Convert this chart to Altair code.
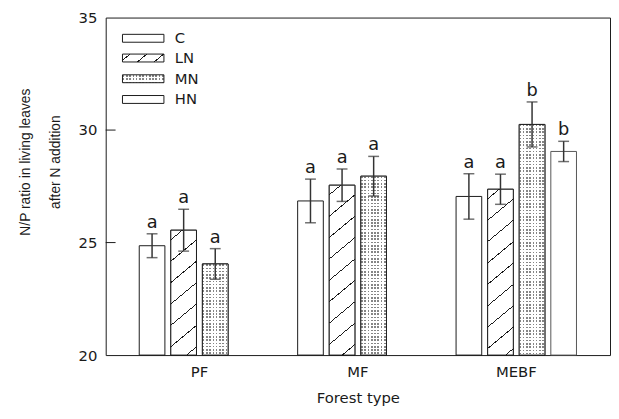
import altair as alt
import pandas as pd

# ---------------- data ----------------
forests = ["PF", "MF", "MEBF"]
treatments = ["C", "LN", "MN", "HN"]
bar_forest = ["PF", "PF", "PF", "MF", "MF", "MF", "MEBF", "MEBF", "MEBF", "MEBF"]
bar_treat = ["C", "LN", "MN", "C", "LN", "MN", "C", "LN", "MN", "HN"]
means = [24.86, 25.55, 24.05, 26.85, 27.55, 27.95, 27.05, 27.37, 30.25, 29.05]
errors = [0.53, 0.93, 0.68, 0.97, 0.72, 0.88, 1.01, 0.67, 1.00, 0.45]
letters = ["a", "a", "a", "a", "a", "a", "a", "a", "b", "b"]
y_ticks = [20, 25, 30, 35]
inner_ticks = [25, 30]
y_title = ["N/P ratio in living leaves", "after N addition"]
x_title = "Forest type"

# ---------------- layout / style ----------------
W, H = 511, 342
YMIN, YMAX = 20, 35
PI, PO = 0.2025, 0.193          # x band padding
PIO, POO = 0.1875, 0.09375      # xOffset padding
INK = "#1a1a1a"
FONT = "DejaVu Sans"
DOT = "#858585"
CLEAR = "rgba(255,255,255,0)"

step = W / (len(forests) - PI + 2 * PO)
bandw = step * (1 - PI)
ostep = bandw / (len(treatments) - PIO + 2 * POO)
BARW = ostep * (1 - PIO)

df = pd.DataFrame({
    "forest": bar_forest, "treatment": bar_treat,
    "mean": means, "err": errors, "letter": letters,
})
df["lo"] = df["mean"] - df["err"]
df["hi"] = df["mean"] + df["err"]


def grad(stops, x2, y2):
    return alt.LinearGradient(
        gradient="linear",
        stops=[alt.GradientStop(color=c, offset=round(min(max(o, 0.0), 1.0), 5)) for o, c in stops],
        x1=0, y1=0, x2=x2, y2=y2,
    )


def bands(total, spacing, lw, on, off, phase):
    stops = [(0.0, off)]
    pos = phase
    while pos - lw / 2 < total:
        lo = max(pos - lw / 2, 0) / total
        hi = min(pos + lw / 2, total) / total
        stops += [(lo, off), (lo, on), (hi, on), (hi, off)]
        pos += spacing
    stops.append((1.0, off))
    return stops


def hatch(w, h, spacing, k=1.2, lw=1.3, color=INK):
    # lines of constant (px + k*py)
    total = w + k * h
    r = h / w
    a = (1 + k * r) / (1 + k * k * r * r)
    return grad(bands(total, spacing, lw, color, "white", spacing * 0.45), a, a * k * r)


def rows(h, spacing=3.3, lw=1.6):
    return grad(bands(h, spacing, lw, DOT, "white", 1.2), 0, 1)


def cols(w, spacing=3.3, lw=1.6):
    return grad(bands(w, spacing, lw, CLEAR, "white", 1.2), 1, 0)


x_enc = alt.X("forest:N", sort=forests,
              scale=alt.Scale(domain=forests, paddingInner=PI, paddingOuter=PO),
              axis=alt.Axis(title=x_title, labelAngle=0, ticks=False, domain=False,
                            labelFont=FONT, labelFontSize=15, labelColor=INK,
                            labelPadding=10, titleFont=FONT, titleFontSize=15,
                            titleFontWeight="normal", titleColor=INK, titlePadding=11))
xo_enc = alt.XOffset("treatment:N", sort=treatments,
                     scale=alt.Scale(domain=treatments, paddingInner=PIO, paddingOuter=POO))
y_scale = alt.Scale(domain=[YMIN, YMAX], nice=False, zero=False)
y_axis = alt.Axis(values=y_ticks, ticks=False, domain=False, grid=False,
                  labelFont=FONT, labelFontSize=15, labelColor=INK, labelPadding=9,
                  title=y_title, titleFont="Liberation Sans", titleFontSize=14,
                  titleFontWeight="normal", titleColor=INK, titlePadding=16,
                  titleLineHeight=30, titleY=146)

base = alt.Chart(df)

bars = base.mark_bar(strokeWidth=1, fill="white").encode(
    x=x_enc, xOffset=xo_enc,
    y=alt.Y("mean:Q", scale=y_scale, axis=y_axis),
    y2=alt.datum(YMIN),
    stroke=alt.Stroke("treatment:N", scale=alt.Scale(domain=treatments,
                      range=[INK, INK, INK, "#555555"]), legend=None),
)

layers = [bars]
for f, t, m in zip(bar_forest, bar_treat, means):
    h = (m - YMIN) / (YMAX - YMIN) * H
    sel = base.transform_filter((alt.datum.forest == f) & (alt.datum.treatment == t))
    enc = dict(x=x_enc, xOffset=xo_enc, y=alt.Y("mean:Q", scale=y_scale), y2=alt.datum(YMIN))
    if t == "LN":
        layers.append(sel.mark_bar(stroke=INK, strokeWidth=1,
                                   fill=hatch(BARW, h, spacing=26)).encode(**enc))
    elif t == "MN":
        layers.append(sel.mark_bar(strokeWidth=0, fill=rows(h)).encode(**enc))
        layers.append(sel.mark_bar(stroke=INK, strokeWidth=1, fill=cols(BARW)).encode(**enc))

whisk = base.mark_rule(color="#333", strokeWidth=1.5).encode(
    x=x_enc, xOffset=xo_enc, y=alt.Y("lo:Q", scale=y_scale), y2="hi:Q")
cap_lo = base.mark_tick(orient="horizontal", size=11, thickness=1.5, color="#333").encode(
    x=x_enc, xOffset=xo_enc, y=alt.Y("lo:Q", scale=y_scale))
cap_hi = base.mark_tick(orient="horizontal", size=11, thickness=1.5, color="#333").encode(
    x=x_enc, xOffset=xo_enc, y=alt.Y("hi:Q", scale=y_scale))
labels = base.mark_text(font=FONT, fontSize=18, color=INK, baseline="alphabetic",
                        dy=-6).encode(
    x=x_enc, xOffset=xo_enc, y=alt.Y("hi:Q", scale=y_scale), text="letter:N")
layers += [whisk, cap_lo, cap_hi, labels]

# inward y ticks
tick_df = pd.DataFrame({"v": inner_ticks})
layers.append(alt.Chart(tick_df).mark_rule(color=INK, strokeWidth=1).encode(
    y=alt.Y("v:Q", scale=y_scale), x=alt.value(0), x2=alt.value(10)))

# legend
leg_y = [21, 41, 62, 83]
LW, LH = 42, 8
for lab, yc in zip(treatments, leg_y):
    ldf = pd.DataFrame({"label": [lab]})
    pos = dict(x=alt.value(17), x2=alt.value(17 + LW), y=alt.value(yc - LH / 2),
               y2=alt.value(yc + LH / 2))
    if lab == "LN":
        layers.append(alt.Chart(ldf).mark_rect(fill=hatch(LW, LH, spacing=17, k=1.2),
                                               stroke=INK, strokeWidth=1).encode(**pos))
    elif lab == "MN":
        layers.append(alt.Chart(ldf).mark_rect(fill=rows(LH), strokeWidth=0).encode(**pos))
        layers.append(alt.Chart(ldf).mark_rect(fill=cols(LW), stroke=INK,
                                               strokeWidth=1).encode(**pos))
    else:
        layers.append(alt.Chart(ldf).mark_rect(fill="white", stroke=INK,
                                               strokeWidth=1).encode(**pos))
    layers.append(alt.Chart(ldf).mark_text(font=FONT, fontSize=15, color=INK,
                                           align="left", baseline="middle").encode(
        x=alt.value(70), y=alt.value(yc), text="label:N"))

chart = alt.layer(*layers).properties(
    width=W, height=H, padding={"left": 10, "top": 0, "right": 1, "bottom": 5},
    background="white",
).configure_view(stroke=INK, strokeWidth=1)

chart.save("out.html", embed_options={"renderer": "svg", "actions": False})
